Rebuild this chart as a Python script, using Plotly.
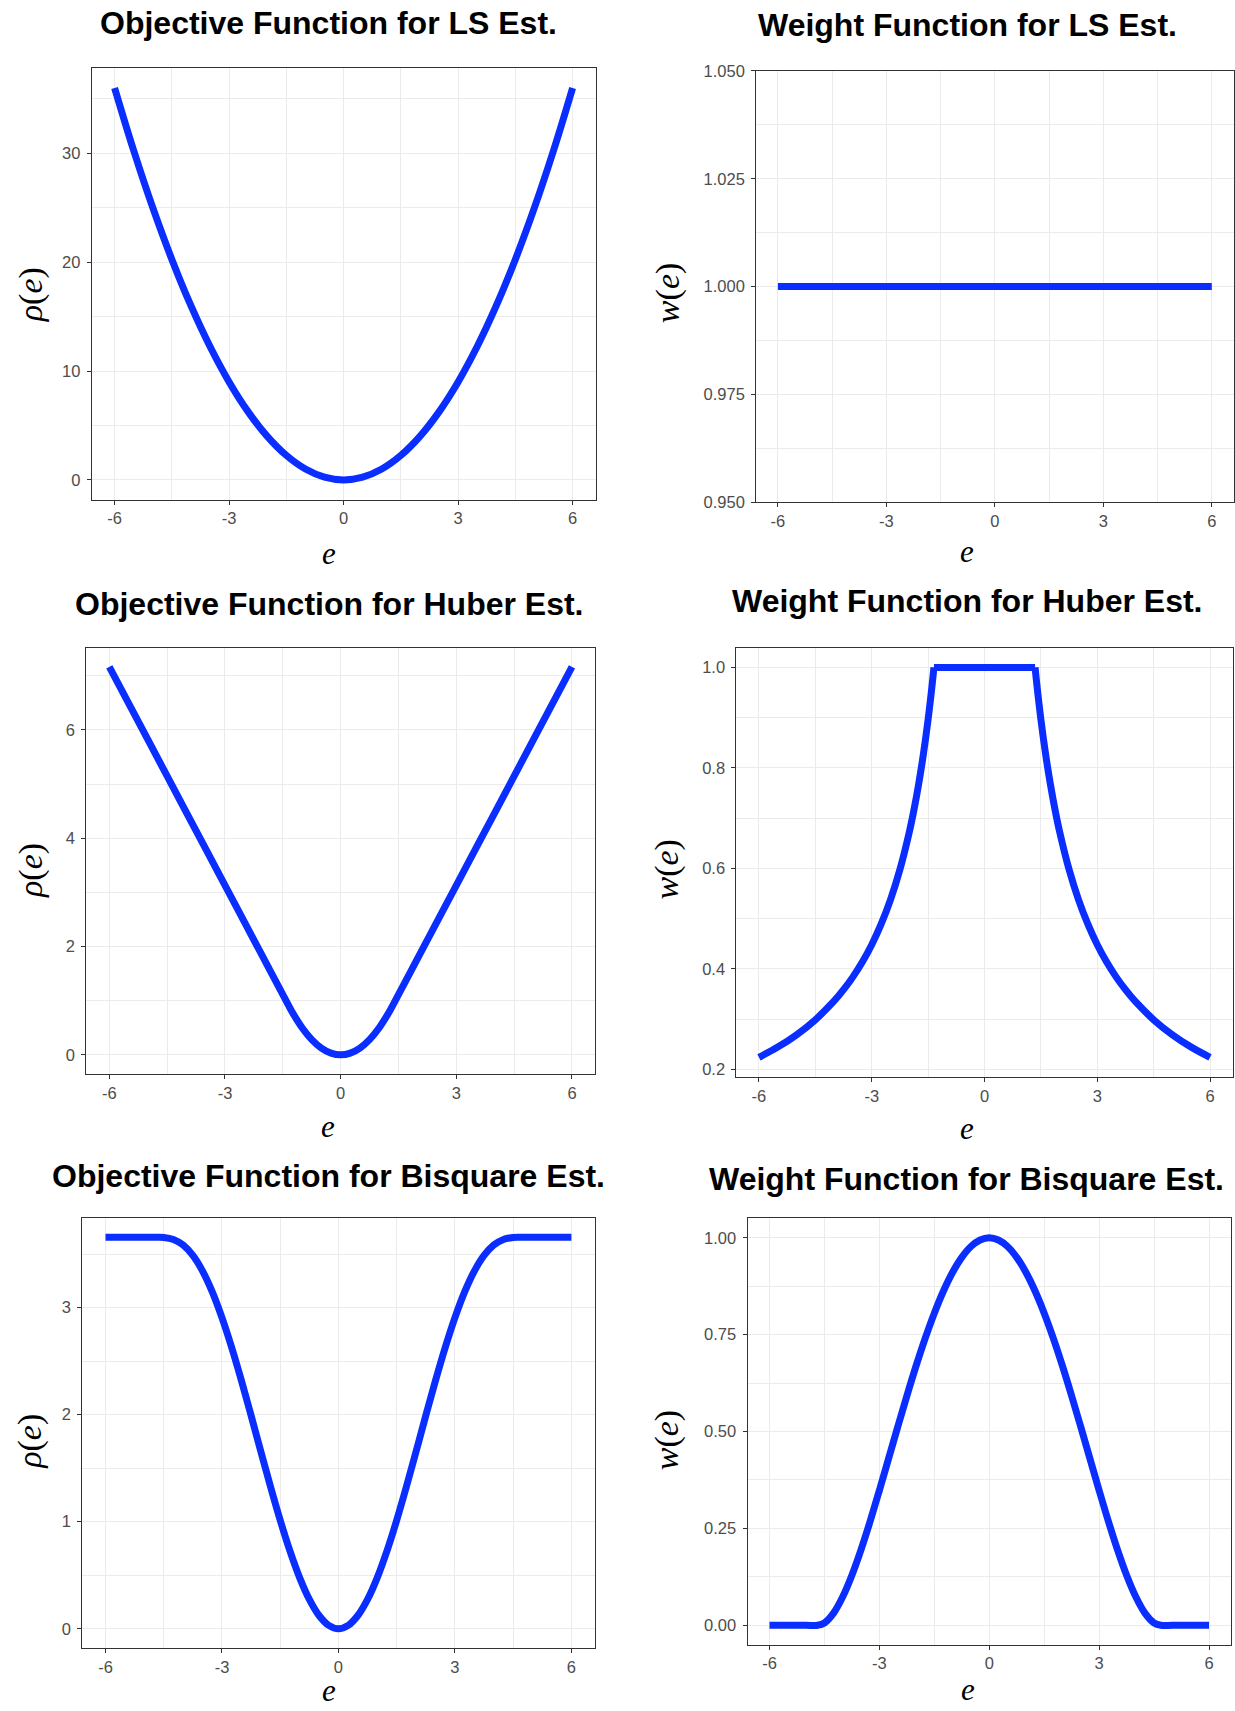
import plotly.graph_objects as go

# ---------------- data ----------------
e_ls = [-6, -5.5, -5, -4.5, -4, -3.5, -3, -2.5, -2, -1.5, -1, -0.5, 0,
        0.5, 1, 1.5, 2, 2.5, 3, 3.5, 4, 4.5, 5, 5.5, 6]
rho_ls = [36, 30.25, 25, 20.25, 16, 12.25, 9, 6.25, 4, 2.25, 1, 0.25, 0,
          0.25, 1, 2.25, 4, 6.25, 9, 12.25, 16, 20.25, 25, 30.25, 36]
w_ls = [1, 1, 1, 1, 1, 1, 1, 1, 1, 1, 1, 1, 1,
        1, 1, 1, 1, 1, 1, 1, 1, 1, 1, 1, 1]

e_hr = [-6, -5, -4, -3, -2, -1.345, -1.25, -1, -0.75, -0.5, -0.25, 0,
        0.25, 0.5, 0.75, 1, 1.25, 1.345, 2, 3, 4, 5, 6]
rho_hr = [7.1655, 5.8205, 4.4755, 3.1305, 1.7855, 0.9045, 0.7813, 0.5, 0.2813, 0.125, 0.0313, 0,
          0.0313, 0.125, 0.2813, 0.5, 0.7813, 0.9045, 1.7855, 3.1305, 4.4755, 5.8205, 7.1655]

e_hw = [-6, -5.5, -5, -4.5, -4, -3.75, -3.5, -3.25, -3, -2.75, -2.5, -2.25, -2,
        -1.875, -1.75, -1.625, -1.5, -1.4, -1.345,
        1.345, 1.4, 1.5, 1.625, 1.75, 1.875,
        2, 2.25, 2.5, 2.75, 3, 3.25, 3.5, 3.75, 4, 4.5, 5, 5.5, 6]
w_hw = [0.2242, 0.2445, 0.2690, 0.2989, 0.3363, 0.3587, 0.3843, 0.4138, 0.4483, 0.4891, 0.5380, 0.5978, 0.6725,
        0.7173, 0.7686, 0.8277, 0.8967, 0.9607, 1,
        1, 0.9607, 0.8967, 0.8277, 0.7686, 0.7173,
        0.6725, 0.5978, 0.5380, 0.4891, 0.4483, 0.4138, 0.3843, 0.3587, 0.3363, 0.2989, 0.2690, 0.2445, 0.2242]

e_bs = [-6, -5.5, -5, -4.685, -4.5, -4.25, -4, -3.75, -3.5, -3.25, -3, -2.75, -2.5, -2.25,
        -2, -1.75, -1.5, -1.25, -1, -0.75, -0.5, -0.25, 0,
        0.25, 0.5, 0.75, 1, 1.25, 1.5, 1.75, 2, 2.25, 2.5, 2.75, 3, 3.25, 3.5, 3.75,
        4, 4.25, 4.5, 4.685, 5, 5.5, 6]
rho_bs = [3.6582, 3.6582, 3.6582, 3.6582, 3.6565, 3.6379, 3.5854, 3.4885, 3.3425, 3.1475, 2.9070, 2.6281, 2.3196, 1.9923,
          1.6577, 1.3276, 1.0136, 0.7270, 0.4775, 0.2741, 0.1236, 0.0312, 0,
          0.0312, 0.1236, 0.2741, 0.4775, 0.7270, 1.0136, 1.3276, 1.6577, 1.9923, 2.3196, 2.6281, 2.9070, 3.1475, 3.3425, 3.4885,
          3.5854, 3.6379, 3.6565, 3.6582, 3.6582, 3.6582, 3.6582]
w_bs = [0, 0, 0, 0, 0.0060, 0.0314, 0.0735, 0.1291, 0.1953, 0.2691, 0.3481, 0.4296, 0.5116, 0.5919,
        0.6687, 0.7404, 0.8055, 0.8627, 0.9110, 0.9494, 0.9774, 0.9943, 1,
        0.9943, 0.9774, 0.9494, 0.9110, 0.8627, 0.8055, 0.7404, 0.6687, 0.5919, 0.5116, 0.4296, 0.3481, 0.2691, 0.1953, 0.1291,
        0.0735, 0.0314, 0.0060, 0, 0, 0, 0]

titles = ["Objective Function for LS Est.", "Weight Function for LS Est.",
          "Objective Function for Huber Est.", "Weight Function for Huber Est.",
          "Objective Function for Bisquare Est.", "Weight Function for Bisquare Est."]
x_ticks = [-6, -3, 0, 3, 6]
x_ticktext = ["-6", "-3", "0", "3", "6"]
y_ticks = [[0, 10, 20, 30], [0.95, 0.975, 1.0, 1.025, 1.05],
           [0, 2, 4, 6], [0.2, 0.4, 0.6, 0.8, 1.0],
           [0, 1, 2, 3], [0, 0.25, 0.5, 0.75, 1.0]]
y_ticktext = [["0", "10", "20", "30"], ["0.950", "0.975", "1.000", "1.025", "1.050"],
              ["0", "2", "4", "6"], ["0.2", "0.4", "0.6", "0.8", "1.0"],
              ["0", "1", "2", "3"], ["0.00", "0.25", "0.50", "0.75", "1.00"]]
y_minor = [[5, 15, 25, 35], [0.9625, 0.9875, 1.0125, 1.0375],
           [1, 3, 5, 7], [0.3, 0.5, 0.7, 0.9],
           [0.5, 1.5, 2.5, 3.5], [0.125, 0.375, 0.625, 0.875]]
x_minor = [-4.5, -1.5, 1.5, 4.5]
y_titles = ["ρ", "w", "ρ", "w", "ρ", "w"]

# Huber weight: left tail, flat top, right tail (kinks kept sharp)
series = [
    [(e_ls, rho_ls, "spline")],
    [(e_ls, w_ls, "linear")],
    [(e_hr, rho_hr, "spline")],
    [(e_hw[:19], w_hw[:19], "spline"), (e_hw[18:20], w_hw[18:20], "linear"),
     (e_hw[19:], w_hw[19:], "spline")],
    [(e_bs, rho_bs, "spline")],
    [(e_bs, w_bs, "spline")],
]

# ---------------- layout geometry (target pixels) ----------------
W, H = 1235, 1711


def py(p):
    # vertical pixel -> paper coordinate (compensates page offset seen in render)
    return 1 - ((p - 8.4) / 0.989) / H


boxes = [(91.7, 595.5, 67.7, 498.7), (756.2, 1233.5, 70.3, 501.3),
         (86.2, 595.1, 646.6, 1073.1), (736.4, 1232.6, 647.0, 1075.7),
         (82.2, 594.7, 1216.5, 1646.9), (747.5, 1231.0, 1217.2, 1643.3)]
y_ranges = [[-1.8, 37.8], [0.95, 1.05], [-0.3583, 7.5238], [0.1854, 1.0388],
            [-0.1829, 3.8411], [-0.05, 1.05]]
title_pos = [(328.8, 22.5), (967.8, 24.5), (329.2, 603.0), (967.5, 600.5),
             (328.8, 1175.0), (966.9, 1178.0)]
xt_pos = [(329, 553), (967, 551), (328, 1125), (967, 1127), (329, 1689), (968, 1688)]
yt_pos = [(30.5, 294), (667.4, 292), (30.5, 869.5), (667, 868.5), (30.5, 1440), (667, 1439)]

BLUE = "#0A2EFF"
GRID = "#EBEBEB"
fig = go.Figure()
annotations = []
layout = dict(width=W, height=H, margin=dict(l=0, r=0, t=0, b=0),
              paper_bgcolor="white", plot_bgcolor="white", showlegend=False)

for i in range(6):
    k = "" if i == 0 else str(i + 1)
    for xs, ys, shape in series[i]:
        fig.add_trace(go.Scatter(x=xs, y=ys, mode="lines", xaxis="x" + k, yaxis="y" + k,
                                 line=dict(color=BLUE, width=7, shape=shape, smoothing=1.0),
                                 hoverinfo="skip"))
    x0, x1, y0, y1 = boxes[i]
    common = dict(showline=True, linecolor="#333333", linewidth=1, mirror=True,
                  ticks="outside", ticklen=4, tickcolor="#333333", tickwidth=1,
                  showgrid=True, gridcolor=GRID, gridwidth=1.3, zeroline=False,
                  tickfont=dict(family="Liberation Sans", size=16.5, color="#4D4D4D"),
                  fixedrange=True)
    layout["xaxis" + k] = dict(common, domain=[x0 / W, x1 / W], range=[-6.6, 6.6],
                               anchor="y" + k, tickmode="array", tickvals=x_ticks,
                               ticktext=x_ticktext,
                               minor=dict(showgrid=True, gridcolor=GRID, gridwidth=0.6,
                                          tickmode="array", tickvals=x_minor, ticks=""))
    layout["yaxis" + k] = dict(common, domain=[py(y1), py(y0)], range=y_ranges[i],
                               anchor="x" + k, tickmode="array", tickvals=y_ticks[i],
                               ticktext=y_ticktext[i], ticklabelstandoff=3,
                               minor=dict(showgrid=True, gridcolor=GRID, gridwidth=0.6,
                                          tickmode="array", tickvals=y_minor[i], ticks=""))
    tx, ty = title_pos[i]
    annotations.append(dict(text="<b>" + titles[i] + "</b>", x=tx / W, y=py(ty),
                            xref="paper", yref="paper", xanchor="center", yanchor="middle",
                            showarrow=False,
                            font=dict(family="Liberation Sans", size=32, color="black")))
    ex, ey = xt_pos[i]
    annotations.append(dict(text="<i>e</i>", x=ex / W, y=py(ey),
                            xref="paper", yref="paper", xanchor="center", yanchor="middle",
                            showarrow=False,
                            font=dict(family="Liberation Serif", size=31, color="black")))
    yx, yy = yt_pos[i]
    annotations.append(dict(text="<i>" + y_titles[i] + "</i>(<i>e</i>)", x=yx / W, y=py(yy),
                            xref="paper", yref="paper", xanchor="center", yanchor="middle",
                            textangle=-90, showarrow=False,
                            font=dict(family="Liberation Serif", size=34, color="black")))

layout["annotations"] = annotations
fig.update_layout(**layout)
fig.write_html("out.html",
               post_script="document.body.style.margin='0';document.body.style.padding='0';"
                           "document.body.style.overflow='hidden';")
